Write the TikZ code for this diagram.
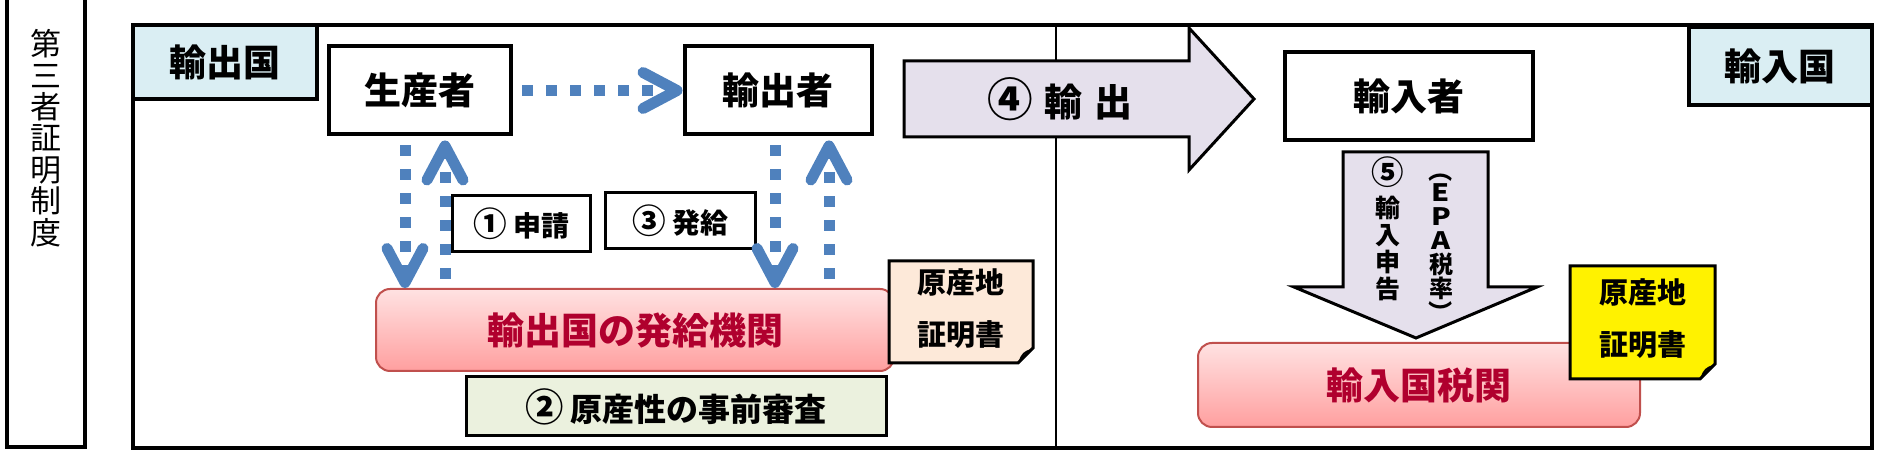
\documentclass[tikz,border=0pt]{standalone}
\usepackage{fontspec}
\setmainfont{Noto Sans CJK JP}
\usepackage{graphicx}
\usetikzlibrary{arrows.meta}

\definecolor{tagblue}{HTML}{DAEEF3}
\definecolor{flowblue}{HTML}{4F81BD}
\definecolor{pinktop}{HTML}{FFE2E2}
\definecolor{pinkbot}{HTML}{FF9F9F}
\definecolor{pinkline}{HTML}{C0504D}
\definecolor{redtext}{HTML}{B0002E}
\definecolor{checkgreen}{HTML}{EBF1DE}
\definecolor{arrowlilac}{HTML}{E5E0EC}
\definecolor{certpeach}{HTML}{FDE9D9}

\newcommand{\bignum}[1]{\scalebox{1.2}{#1}}
\newcommand{\widechar}[1]{\scalebox{1.2}[1]{#1}}

\begin{document}
\begin{tikzpicture}[x=0.5pt, y=-0.5pt,
    frame/.style={line width=2pt},
    tag/.style={draw, line width=2pt, fill=tagblue, font=\bfseries\fontsize{18.5pt}{22pt}\selectfont, minimum width=92pt, minimum height=37pt},
    actor/.style={draw, line width=2pt, fill=white, font=\bfseries\fontsize{18.5pt}{22pt}\selectfont, minimum height=44pt},
    stepbox/.style={draw, line width=1.5pt, fill=white, font=\bfseries\fontsize{14pt}{16pt}\selectfont, minimum height=28pt},
    agency/.style={draw=pinkline, line width=1pt, rounded corners=7pt, top color=pinktop, bottom color=pinkbot, text=redtext, font=\bfseries\fontsize{18.5pt}{22pt}\selectfont, minimum height=41pt},
    flow/.style={draw=flowblue, line width=5.5pt, dash pattern=on 5.5pt off 6.5pt, -{Straight Barb[length=17pt, width=18pt, round]}, shorten <=4.5pt},
    bigarrow/.style={draw, line width=1.5pt, line join=miter, fill=arrowlilac},
    note/.style={draw, line width=1.5pt},
    notetext/.style={align=center, font=\bfseries\fontsize{14.5pt}{26pt}\selectfont},
    column/.style={align=center, inner sep=0pt, font=\bfseries\fontsize{12pt}{12pt}\selectfont}
]
\useasboundingbox (0,0) rectangle (1901,453);

% outer frames
\draw[frame] (7,-5) -- (7,447) -- (85,447) -- (85,-5);
\node[align=center, font=\fontsize{15.5pt}{15.7pt}\selectfont] at (46,138) (scheme) {第\\三\\者\\証\\明\\制\\度};
\draw[frame] (133,25) rectangle (1872,448);
\draw[line width=1.2pt] (1056,25) -- (1056,448);

% country labels
\node[tag] at (225,62) (lout) {輸出国};
\node[tag, minimum width=91.5pt, minimum height=39pt] at (1780,66) (lin) {輸入国};

% parties
\node[actor, minimum width=91pt] at (420,90.5) (prod) {生産者};
\node[actor, minimum width=93.5pt] at (778,90.5) (exp) {輸出者};
\node[actor, minimum width=124pt] at (1409,96) (imp) {輸入者};

% steps
\node[stepbox, minimum width=69pt] at (521,224) (apply) {\bignum{①} 申請};
\node[stepbox, minimum width=75pt] at (680,221) (issue) {\bignum{③} 発給};
\node[agency, minimum width=259pt] at (635,330) (issuer) {輸出国の発給機関};
\node[stepbox, fill=checkgreen, minimum width=210pt, minimum height=29.5pt, font=\bfseries\fontsize{16pt}{18pt}\selectfont] at (676,406.5) (check) {\bignum{②} 原産性の事前審査};
\node[agency, minimum width=221pt, minimum height=42pt] at (1419,385) (customs) {輸入国税関};

% certificates
\draw[note, fill=certpeach] (889,261) -- (1033,261) -- (1033,348) -- (1018,363) -- (889,363) -- cycle;
\draw[line width=1pt] (1020,361) .. controls (1022,354) and (1025,352) .. (1031,350);
\node[notetext] at (961,309) (lcert) {原産地\\証明書};
\draw[note, fill=yellow] (1570,266) -- (1715,266) -- (1715,364) -- (1700,379) -- (1570,379) -- cycle;
\draw[line width=1pt] (1702,377) .. controls (1704,370) and (1707,368) .. (1713,366);
\node[notetext] at (1643,318.5) (rcert) {原産地\\証明書};

% export and import arrows
\draw[bigarrow] (904,61) -- (1189,61) -- (1189,28) -- (1254,99) -- (1189,170) -- (1189,137) -- (904,137) -- cycle;
\node[font=\bfseries\fontsize{19pt}{22pt}\selectfont] at (1060,99) (ship) {\bignum{④}\hspace{0.3em}輸\hspace{0.3em}出};
\draw[bigarrow] (1343,152) -- (1488,152) -- (1488,287) -- (1537,287) -- (1416,338) -- (1294,287) -- (1343,287) -- cycle;
\node[column, font={\bfseries\fontsize{12.5pt}{13.5pt}\selectfont}] at (1388,229) (decl) {\scalebox{1.3}{⑤}\\[3pt]輸\\入\\申\\告};
\node[column] at (1441,241.5) (rate) {\widechar{E}\\\widechar{P}\\\widechar{A}\\税\\率};
\node[column, anchor=south] at (rate.north) (lpar) {\rotatebox[origin=c]{-90}{（}};
\node[column, anchor=north] at (rate.south) (rpar) {\rotatebox[origin=c]{-90}{）}};

% dotted flows
\coordinate (a1) at ([xshift=-7.5pt]prod.south);
\coordinate (a2) at ([xshift=12.5pt]prod.south);
\coordinate (a3) at ([xshift=-1.5pt]exp.south);
\coordinate (a4) at ([xshift=25.5pt]exp.south);
\draw[flow] (prod) -- (exp);
\draw[flow] (a1) -- (a1 |- issuer.north);
\draw[flow, shorten >=2pt] (a2 |- issuer.north) -- (a2);
\draw[flow] (a3) -- (a3 |- issuer.north);
\draw[flow, shorten >=2pt] (a4 |- issuer.north) -- (a4);
\end{tikzpicture}
\end{document}
